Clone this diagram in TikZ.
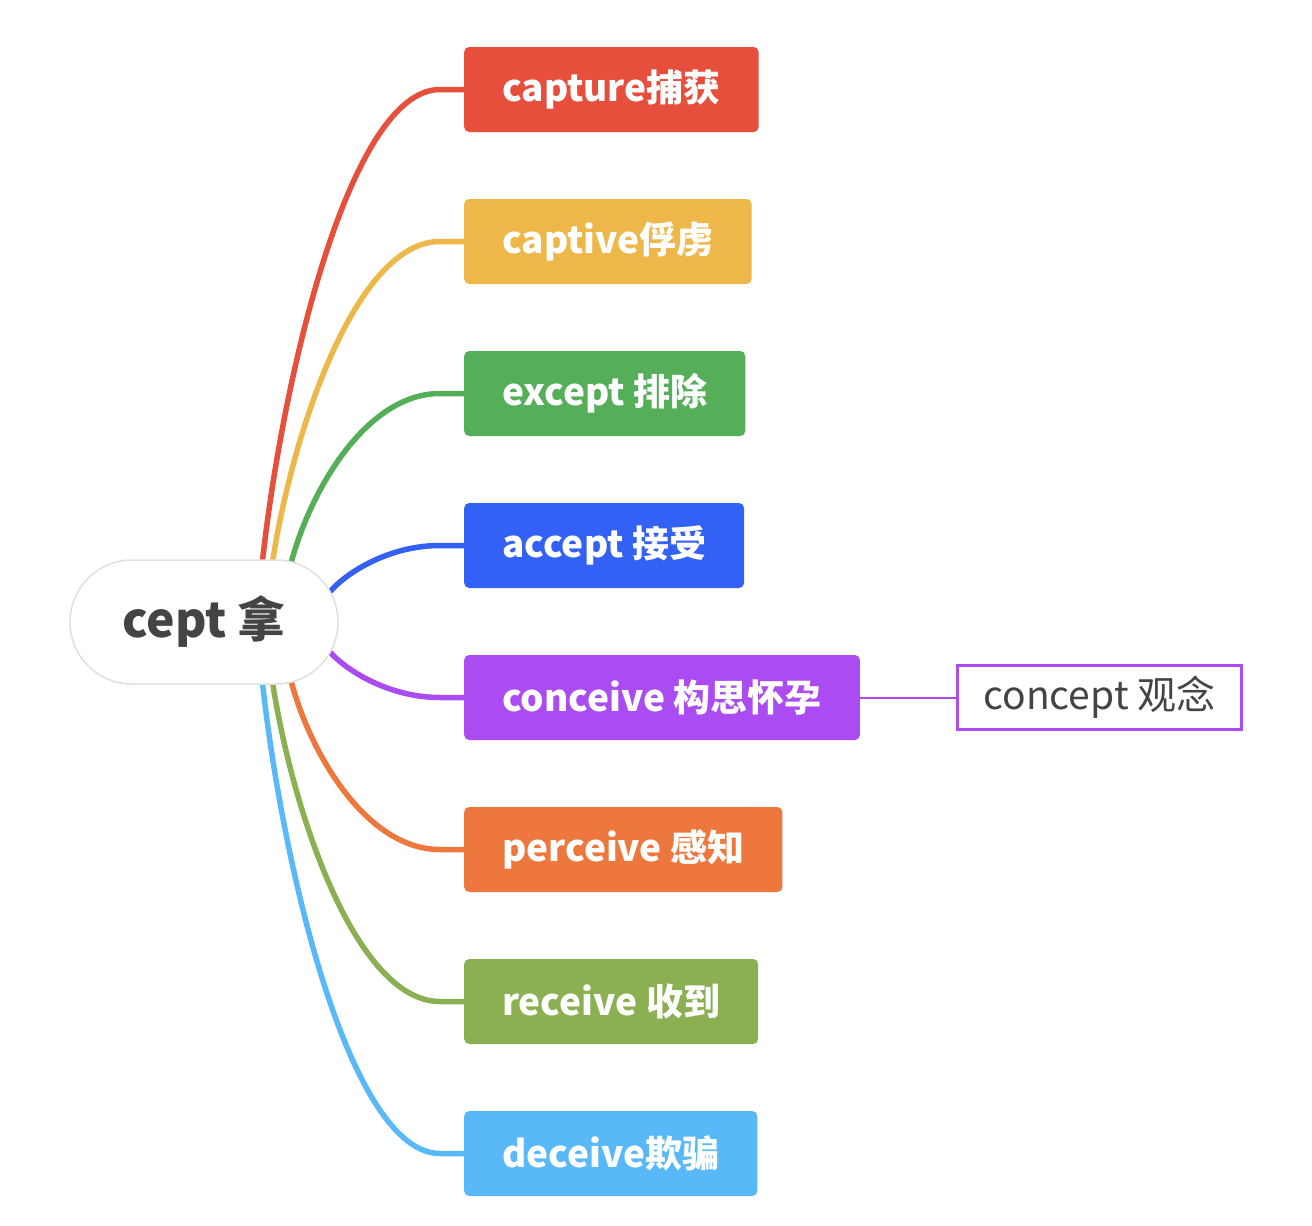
\documentclass[tikz,border=0pt]{standalone}
\usepackage{fontspec}
\setmainfont{Noto Sans CJK SC}
\usepackage{tikz}
\usetikzlibrary{calc,backgrounds}
\usepackage{xcolor}
\definecolor{cred}{HTML}{E54F3C}
\definecolor{cyellow}{HTML}{EDB74A}
\definecolor{cgreen}{HTML}{55AE58}
\definecolor{cblue}{HTML}{3461F5}
\definecolor{cpurple}{HTML}{AA4CF2}
\definecolor{corange}{HTML}{EE773D}
\definecolor{colive}{HTML}{8AB052}
\definecolor{csky}{HTML}{58B8F8}
\definecolor{ctext}{HTML}{444444}

\begin{document}
\begin{tikzpicture}[x=1pt,y=-1pt,
  topic/.style={anchor=west,rounded corners=5pt,minimum height=85pt,inner xsep=38pt,
    text=white,font=\bfseries\fontsize{37}{42}\selectfont},
  link/.style={line width=5.5pt,line cap=round}]
  \useasboundingbox (0,0) rectangle (1312,1226);

  % root
  \node[draw=black!12,line width=1.5pt,fill=white,rounded corners=62pt,minimum width=268pt,
    minimum height=124pt,text=ctext,font=\bfseries\fontsize{48}{54}\selectfont] (root) at (204,622) {cept 拿};

  % branches
  \node[topic,fill=cred]    (capture)  at (464,89.5)   {capture捕获};
  \node[topic,fill=cyellow] (captive)  at (464,241.5)  {captive俘虏};
  \node[topic,fill=cgreen]  (except)   at (464,393.5)  {except 排除};
  \node[topic,fill=cblue]   (accept)   at (464,545.5)  {accept 接受};
  \node[topic,fill=cpurple] (conceive) at (464,697.5)  {conceive 构思怀孕};
  \node[topic,fill=corange] (perceive) at (464,849.5)  {perceive 感知};
  \node[topic,fill=colive]  (receive)  at (464,1001.5) {receive 收到};
  \node[topic,fill=csky]    (deceive)  at (464,1153.5) {deceive欺骗};

  % sub topic
  \node[anchor=west,draw=cpurple,line width=3pt,minimum width=284pt,minimum height=64pt,
    text=ctext,font=\fontsize{39}{44}\selectfont] (concept) at (956,697.5) {concept 观念};
  \draw[cpurple,line width=2pt] (conceive.east)--(concept.west);

  \begin{pgfonlayer}{background}
  \draw[link,cred]    ($(root.north)+(58,6)$) .. controls +(21,-194) and +(-89,0) .. ($(capture.west)+(-24,0)$)--(capture.west);
  \draw[link,cyellow] ($(root.north)+(68,6)$) .. controls +(20,-133) and +(-84,0) .. ($(captive.west)+(-24,0)$)--(captive.west);
  \draw[link,cgreen]  ($(root.north)+(86,8)$) .. controls +(18,-73) and +(-75,0) .. ($(except.west)+(-24,0)$)--(except.west);
  \draw[link,cblue]   ($(root.east)+(-12,-26)$) .. controls +(13,-19) and +(-55,0) .. ($(accept.west)+(-24,0)$)--(accept.west);
  \draw[link,cpurple] ($(root.east)+(-12,26)$) .. controls +(13,18) and +(-55,0) .. ($(conceive.west)+(-24,0)$)--(conceive.west);
  \draw[link,corange] ($(root.south)+(86,-8)$) .. controls +(18,73) and +(-75,0) .. ($(perceive.west)+(-24,0)$)--(perceive.west);
  \draw[link,colive]  ($(root.south)+(68,-6)$) .. controls +(20,133) and +(-84,0) .. ($(receive.west)+(-24,0)$)--(receive.west);
  \draw[link,csky]    ($(root.south)+(58,-6)$) .. controls +(21,194) and +(-89,0) .. ($(deceive.west)+(-24,0)$)--(deceive.west);
  \end{pgfonlayer}
\end{tikzpicture}
\end{document}
